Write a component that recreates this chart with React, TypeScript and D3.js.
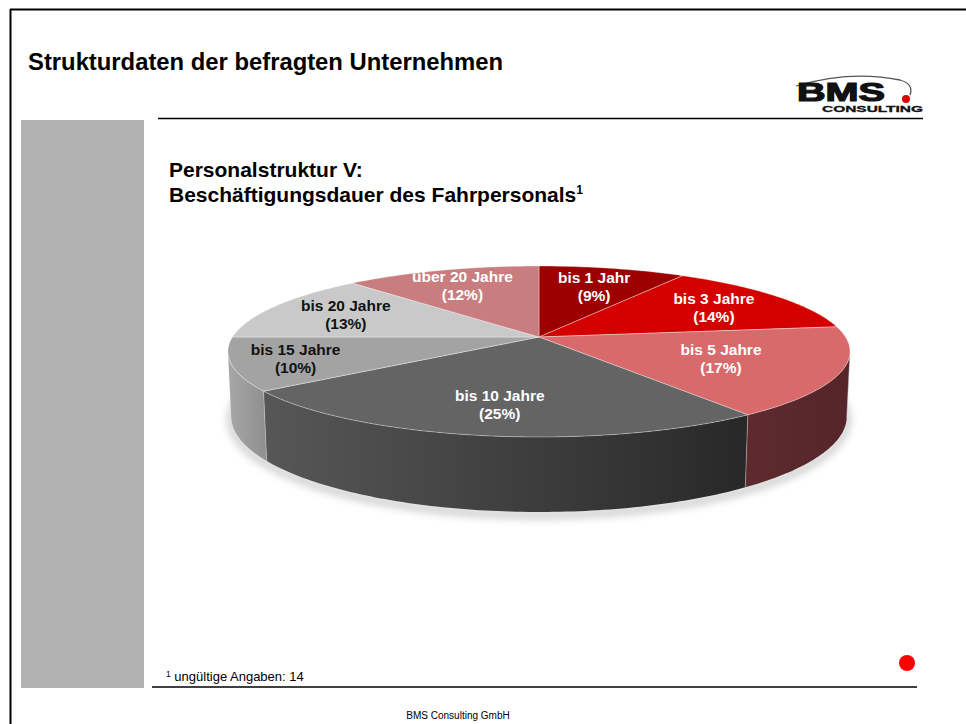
import React from "react";
import * as d3 from "d3";

const categories = ["bis 1 Jahr", "bis 3 Jahre", "bis 5 Jahre", "bis 10 Jahre", "bis 15 Jahre", "bis 20 Jahre", "über 20 Jahre"];
const values = [9, 14, 17, 25, 10, 13, 12];
const topColors = ["#9c0000", "#d40000", "#d96a6b", "#646464", "#a3a3a3", "#c9c9c9", "#c97d7e"];
const sideColorsLeft = ["#4a0000", "#6a0000", "#5e2a2d", "#575757", "#a8a8a8", "#b0b0b0", "#7a4a4a"];
const sideColorsRight = ["#4a0000", "#6a0000", "#552529", "#282828", "#8e8e8e", "#a0a0a0", "#6a3a3a"];
const labelColors = ["#ffffff", "#ffffff", "#ffffff", "#ffffff", "#111111", "#111111", "#ffffff"];
const labelRadius = [0.72, 0.72, 0.62, 0.72, 0.8, 0.72, 0.76];

const W = 966;
const H = 724;

// perspective model of the pie
const cx = 539;
const apexY = 337;
const tilt = Math.asin(0.2709);
const cT = Math.cos(tilt);
const sT = Math.sin(tilt);
const Dist = 5.679;
const focal = 1740.8;
const depthH = 0.2172;

function proj(X: number, Z: number, Y: number): [number, number] {
  const depth = Dist - (Z * cT + Y * sT);
  const up = Y * cT - Z * sT;
  return [cx + (focal * X) / depth, apexY - (focal * up) / depth];
}
function polar(theta: number, r: number, Y: number): [number, number] {
  return proj(r * Math.sin(theta), -r * Math.cos(theta), Y);
}

export default function App() {
  const pie = d3.pie<number>().sort(null).value((d) => d)(values);
  const line = d3.line<[number, number]>();
  const z0 = 1 / (Dist * cT);
  const vis0 = Math.acos(-z0);
  const vis1 = 2 * Math.PI - vis0;

  const arcPts = (a0: number, a1: number, Y: number) => {
    const n = Math.max(4, Math.ceil(((a1 - a0) * 180) / Math.PI));
    return d3.range(n + 1).map((i) => polar(a0 + ((a1 - a0) * i) / n, 1, Y));
  };

  const walls = pie
    .map((p, i) => {
      const a0 = Math.max(p.startAngle, vis0);
      const a1 = Math.min(p.endAngle, vis1);
      if (a1 <= a0) return null;
      const topP = arcPts(a0, a1, 0);
      const botP = arcPts(a0, a1, -depthH).reverse();
      const pts = topP.concat(botP);
      const xs = pts.map((q) => q[0]);
      return { i, d: line(pts) + "Z", x0: d3.min(xs)!, x1: d3.max(xs)!, seam: [topP[0], botP[botP.length - 1]] };
    })
    .filter((w) => w !== null) as any[];

  const slices = pie.map((p, i) => {
    const pts: [number, number][] = [polar(0, 0, 0), ...arcPts(p.startAngle, p.endAngle, 0)];
    return { i, d: line(pts) + "Z" };
  });

  const labels = pie.map((p, i) => {
    const mid = (p.startAngle + p.endAngle) / 2;
    const [x, y] = polar(mid, labelRadius[i], 0);
    return { i, x, y, pct: `(${values[i]}%)` };
  });

  const shadowPts = arcPts(vis0 - 0.4, vis1 + 0.4, -depthH);
  const font = "'Liberation Sans', Arial, Helvetica, sans-serif";

  return (
    <svg width={W} height={H} style={{ position: "absolute", left: 0, top: 0 }} fontFamily={font}>
      <defs>
        {walls.map((w) => (
          <linearGradient key={w.i} id={`wg${w.i}`} gradientUnits="userSpaceOnUse" x1={w.x0} x2={w.x1} y1={0} y2={0}>
            <stop offset="0%" stopColor={sideColorsLeft[w.i]} />
            <stop offset="100%" stopColor={sideColorsRight[w.i]} />
          </linearGradient>
        ))}
        <filter id="blur" x="-20%" y="-50%" width="140%" height="200%">
          <feGaussianBlur stdDeviation="4" />
        </filter>
      </defs>
      <rect x={0} y={0} width={W} height={H} fill="#ffffff" />
      {/* page frame */}
      <line x1={10.5} x2={10.5} y1={9} y2={H} stroke="#000" strokeWidth={2} />
      <line x1={10} x2={W} y1={9.5} y2={9.5} stroke="#000" strokeWidth={2} />

      <text x={28} y={70} fontSize={23.5} fontWeight="bold" fill="#000" textLength={475} lengthAdjust="spacingAndGlyphs">
        Strukturdaten der befragten Unternehmen
      </text>

      {/* logo */}
      <path d="M796,86 Q850,70 900,80 Q914,84 910,95" fill="none" stroke="#555" strokeWidth={1.3} />
      <text x={797} y={101} fontSize={25} fontWeight="bold" fill="#111" stroke="#111" strokeWidth={1.2} textLength={88} lengthAdjust="spacingAndGlyphs">
        BMS
      </text>
      <circle cx={906} cy={99} r={4} fill="#e00000" />
      <text x={822} y={112} fontSize={9} fontWeight="bold" fill="#111" stroke="#111" strokeWidth={0.3} textLength={101} lengthAdjust="spacingAndGlyphs">
        CONSULTING
      </text>

      <line x1={158} x2={923} y1={118.5} y2={118.5} stroke="#000" strokeWidth={1.5} />
      <rect x={21} y={120} width={123} height={568} fill="#b2b2b2" />

      <text x={169} y={177} fontSize={21} fontWeight="bold" fill="#000">
        Personalstruktur V:
      </text>
      <text x={169} y={202} fontSize={21} fontWeight="bold" fill="#000">
        Beschäftigungsdauer des Fahrpersonals
        <tspan fontSize={12} dy={-8}>1</tspan>
      </text>

      {/* pie */}
      <path d={line(shadowPts)!} fill="none" stroke="#000" strokeOpacity={0.25} strokeWidth={6} filter="url(#blur)" transform="translate(0,3)" />
      {walls.map((w) => (
        <path key={w.i} d={w.d} fill={`url(#wg${w.i})`} />
      ))}
      {walls.map((w) => (
        <line key={"s" + w.i} x1={w.seam[0][0]} y1={w.seam[0][1]} x2={w.seam[1][0]} y2={w.seam[1][1]} stroke="#d0d0d0" strokeOpacity={0.6} strokeWidth={0.8} />
      ))}
      {slices.map((s) => (
        <path key={s.i} d={s.d} fill={topColors[s.i]} stroke="#ffffff" strokeOpacity={0.45} strokeWidth={0.8} strokeLinejoin="round" />
      ))}
      {labels.map((l) => (
        <text key={l.i} x={l.x} y={l.y} textAnchor="middle" fontSize={15.5} fontWeight="bold" fill={labelColors[l.i]}>
          <tspan x={l.x} dy={-3}>{categories[l.i]}</tspan>
          <tspan x={l.x} dy={18}>{l.pct}</tspan>
        </text>
      ))}

      {/* footnote */}
      <text x={166} y={681} fontSize={13} fill="#000">
        <tspan fontSize={8.5} dy={-4}>1</tspan>
        <tspan dy={4}> ungültige Angaben: 14</tspan>
      </text>
      <line x1={152} x2={917} y1={687} y2={687} stroke="#000" strokeWidth={1.5} />
      <circle cx={907} cy={663} r={8} fill="#ff0000" />
      <text x={458} y={719} textAnchor="middle" fontSize={10} fill="#000">
        BMS Consulting GmbH
      </text>
    </svg>
  );
}
